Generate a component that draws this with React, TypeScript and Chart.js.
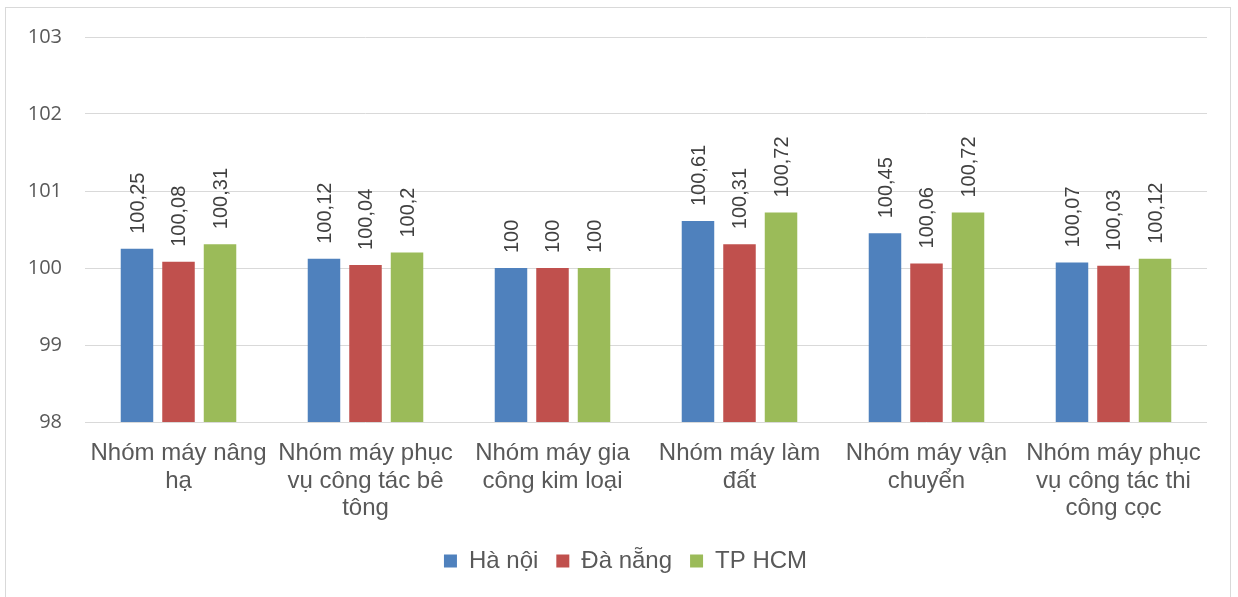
import React, { useEffect, useRef } from "react";
import { Chart, registerables } from "chart.js";

Chart.register(...registerables);

const categories: string[][] = [
  ["Nhóm máy nâng", "hạ"],
  ["Nhóm máy phục", "vụ công tác bê", "tông"],
  ["Nhóm máy gia", "công kim loại"],
  ["Nhóm máy làm", "đất"],
  ["Nhóm máy vận", "chuyển"],
  ["Nhóm máy phục", "vụ công tác thi", "công cọc"],
];
const haNoi = [100.25, 100.12, 100, 100.61, 100.45, 100.07];
const daNang = [100.08, 100.04, 100, 100.31, 100.06, 100.03];
const tpHcm = [100.31, 100.2, 100, 100.72, 100.72, 100.12];
const seriesNames = ["Hà nội", "Đà nẵng", "TP HCM"];
const seriesColors = ["#4F81BD", "#C0504D", "#9BBB59"];

const TEXT = "#595959";
const FONT = "'Liberation Sans', Arial, sans-serif";

const dataLabelPlugin = {
  id: "rotLabels",
  afterDatasetsDraw(chart: any) {
    const ctx = chart.ctx;
    ctx.save();
    ctx.fillStyle = "#404040";
    ctx.font = `20px ${FONT}`;
    ctx.textAlign = "left";
    ctx.textBaseline = "middle";
    chart.data.datasets.forEach((ds: any, i: number) => {
      const meta = chart.getDatasetMeta(i);
      meta.data.forEach((bar: any, j: number) => {
        const v = ds.data[j];
        const txt = String(v).replace(".", ",");
        ctx.save();
        ctx.translate(bar.x + 1, bar.y - 15);
        ctx.rotate(-Math.PI / 2);
        ctx.fillText(txt, 0, 0);
        ctx.restore();
      });
    });
    ctx.restore();
  },
};

const legendShift = {
  id: "legendShift",
  afterLayout(chart: any) {
    const lg = chart.legend;
    if (!lg) return;
    const dx = 22;
    lg.left += dx;
    lg.right += dx;
    (lg.legendHitBoxes || []).forEach((h: any) => {
      h.left += dx;
    });
  },
};

export default function App() {
  const ref = useRef<HTMLCanvasElement | null>(null);
  useEffect(() => {
    if (!ref.current) return;
    const values = [haNoi, daNang, tpHcm];
    const chart = new Chart(ref.current, {
      type: "bar",
      data: {
        labels: categories,
        datasets: values.map((d, i) => ({
          label: seriesNames[i],
          data: d,
          backgroundColor: seriesColors[i],
          borderWidth: 0,
          categoryPercentage: 0.666,
          barPercentage: 0.783,
        })),
      },
      options: {
        animation: false,
        responsive: false,
        layout: { padding: { left: 0, right: 31, top: 37, bottom: 14 } },
        plugins: {
          tooltip: { enabled: false },
          legend: {
            position: "bottom",
            labels: {
              boxWidth: 13,
              boxHeight: 13,
              padding: 18,
              color: TEXT,
              font: { family: FONT, size: 24 },
            },
          },
        },
        scales: {
          x: {
            grid: { display: false },
            border: { display: false },
            ticks: {
              color: TEXT,
              font: { family: FONT, size: 24, lineHeight: 1.146 },
              padding: 10,
              maxRotation: 0,
              autoSkip: false,
            },
            afterFit: (s: any) => {
              s.height = 109;
            },
          },
          y: {
            min: 98,
            max: 103,
            grid: { color: "#D9D9D9", lineWidth: 1, drawTicks: false },
            border: { display: false },
            ticks: {
              stepSize: 1,
              color: TEXT,
              font: { family: "'Open Sans', sans-serif", size: 20 },
              padding: 23,
            },
            afterFit: (s: any) => {
              s.width = 85;
            },
          },
        },
      },
      plugins: [dataLabelPlugin, legendShift],
    });
    return () => chart.destroy();
  }, []);

  return (
    <div style={{ position: "fixed", left: 0, top: 0, width: 1238, height: 597, background: "#fff", overflow: "hidden" }}>
      <div
        style={{
          position: "absolute",
          left: 5,
          top: 7,
          width: 1226,
          height: 620,
          border: "1px solid #D9D9D9",
          boxSizing: "border-box",
        }}
      />
      <canvas ref={ref} width={1238} height={597} style={{ position: "absolute", left: 0, top: 0 }} />
    </div>
  );
}
